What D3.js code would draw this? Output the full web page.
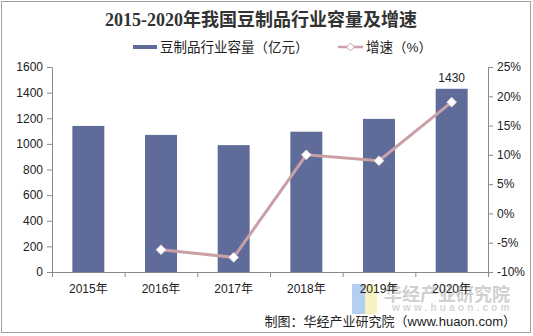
<!DOCTYPE html>
<html><head><meta charset="utf-8">
<script src="https://cdn.jsdelivr.net/npm/d3@7/dist/d3.min.js"></script>
<style>body{margin:0;background:#fff}svg{display:block}</style>
</head><body>
<svg id="c" width="533" height="336"></svg>
<script>
const categories = ["2015年","2016年","2017年","2018年","2019年","2020年"];
const capacity = [1140, 1070, 990, 1095, 1195, 1430];
const growth = [null, -6.2, -7.5, 10.0, 9.0, 19.0];
const leftTicks = [0,200,400,600,800,1000,1200,1400,1600];
const rightTicks = [-10,-5,0,5,10,15,20,25];
const title = "2015-2020年我国豆制品行业容量及增速";
const legendBar = "豆制品行业容量（亿元）";
const legendLine = "增速（%）";
const source = "制图：华经产业研究院（www.huaon.com）";

const svg = d3.select("#c");
const cjk = "'Liberation Sans','Noto Sans CJK SC',sans-serif";
const L = 52, R = 488, T = 67, B = 272;
const barColor = "#5f6c99", lineColor = "#c9a0a6", axisColor = "#8a8a8a";

svg.append("rect").attr("x",1.5).attr("y",1.5).attr("width",529).attr("height",331)
  .attr("fill","#fff").attr("stroke","#a0a0a0");

const x = d3.scaleBand().domain(categories).range([L,R]).paddingInner(0.56).paddingOuter(0.28);
const yL = d3.scaleLinear().domain([0,1600]).range([B,T]);
const yR = d3.scaleLinear().domain([-10,25]).range([B,T]);

// watermark
const wm = svg.append("g");
wm.append("rect").attr("x",352).attr("y",284).attr("width",13).attr("height",30).attr("fill","#b4cff2");
wm.append("rect").attr("x",365).attr("y",284).attr("width",12).attr("height",30).attr("fill","#f8f1c0");
wm.append("text").attr("x",384).attr("y",301).attr("font-family","'Noto Sans CJK SC',sans-serif")
  .attr("font-weight","bold").attr("font-size",18).attr("fill","#d0d0d0").text("华经产业研究院");
wm.append("text").attr("x",392).attr("y",311).attr("font-family","'Liberation Sans',sans-serif")
  .attr("font-weight","bold").attr("font-size",10).attr("letter-spacing",3.2).attr("fill","#d6d6d6").text("www.huaon.com");

// bars
svg.append("g").selectAll("rect").data(categories).join("rect")
  .attr("x",d=>x(d)).attr("width",x.bandwidth())
  .attr("y",(d,i)=>yL(capacity[i])).attr("height",(d,i)=>B-yL(capacity[i]))
  .attr("fill",barColor);

// axes
const axL = svg.append("g").attr("transform",`translate(${L},0)`)
  .call(d3.axisLeft(yL).tickValues(leftTicks).tickSize(5).tickPadding(4).tickFormat(d=>String(d)));
const axR = svg.append("g").attr("transform",`translate(${R},0)`)
  .call(d3.axisRight(yR).tickValues(rightTicks).tickSize(5).tickPadding(4).tickFormat(d=>d+"%"));
const xb = d3.scaleLinear().domain([0,categories.length]).range([L,R]);
const axB = svg.append("g").attr("transform",`translate(0,${B})`)
  .call(d3.axisBottom(xb).tickValues(d3.range(0,categories.length+1)).tickSize(5).tickFormat(""));
[axL,axR,axB].forEach(a=>{
  a.select(".domain").attr("stroke",axisColor);
  a.selectAll(".tick line").attr("stroke",axisColor);
  a.selectAll("text").attr("font-family",cjk).attr("font-size",12).attr("fill","#222");
});
svg.append("g").selectAll("text").data(categories).join("text")
  .attr("x",d=>x(d)+x.bandwidth()/2).attr("y",293).attr("text-anchor","middle")
  .attr("font-family",cjk).attr("font-size",12).attr("fill","#222").text(d=>d);

// line
const pts = categories.map((c,i)=>({c,v:growth[i]})).filter(d=>d.v!==null);
const cx = d=>x(d.c)+x.bandwidth()/2;
svg.append("path").datum(pts)
  .attr("d",d3.line().x(cx).y(d=>yR(d.v)))
  .attr("fill","none").attr("stroke",lineColor).attr("stroke-width",3);
const diamond = d3.symbol().type(d3.symbolDiamond2).size(60);
svg.append("g").selectAll("path").data(pts).join("path")
  .attr("transform",d=>`translate(${cx(d)},${yR(d.v)})`)
  .attr("d",diamond).attr("fill","#fff").attr("stroke","#e6d6d8").attr("stroke-width",1);

// value label
svg.append("text").attr("x",x(categories[5])+x.bandwidth()/2).attr("y",yL(capacity[5])-7)
  .attr("text-anchor","middle").attr("font-family",cjk).attr("font-size",12).attr("fill","#222")
  .text(capacity[5]);

// title
svg.append("text").attr("x",261).attr("y",26).attr("text-anchor","middle")
  .attr("font-family","'Liberation Serif','Noto Sans CJK SC',serif").attr("font-weight","bold")
  .attr("font-size",18).attr("fill","#333").text(title);

// legend
const lg = svg.append("g");
lg.append("rect").attr("x",133).attr("y",45).attr("width",24).attr("height",4).attr("fill",barColor);
lg.append("text").attr("x",160).attr("y",52).attr("font-family",cjk).attr("font-size",13.5)
  .attr("fill","#222").text(legendBar);
lg.append("line").attr("x1",338).attr("x2",363).attr("y1",47).attr("y2",47)
  .attr("stroke",lineColor).attr("stroke-width",2.5);
lg.append("path").attr("transform","translate(350.5,47)").attr("d",d3.symbol().type(d3.symbolDiamond2).size(40))
  .attr("fill","#fff").attr("stroke",lineColor).attr("stroke-width",1);
lg.append("text").attr("x",366).attr("y",52).attr("font-family",cjk).attr("font-size",13.5)
  .attr("fill","#222").text(legendLine);

// source
svg.append("text").attr("x",516).attr("y",326).attr("text-anchor","end")
  .attr("font-family",cjk).attr("font-size",13).attr("fill","#222").text(source);
</script>
</body></html>
